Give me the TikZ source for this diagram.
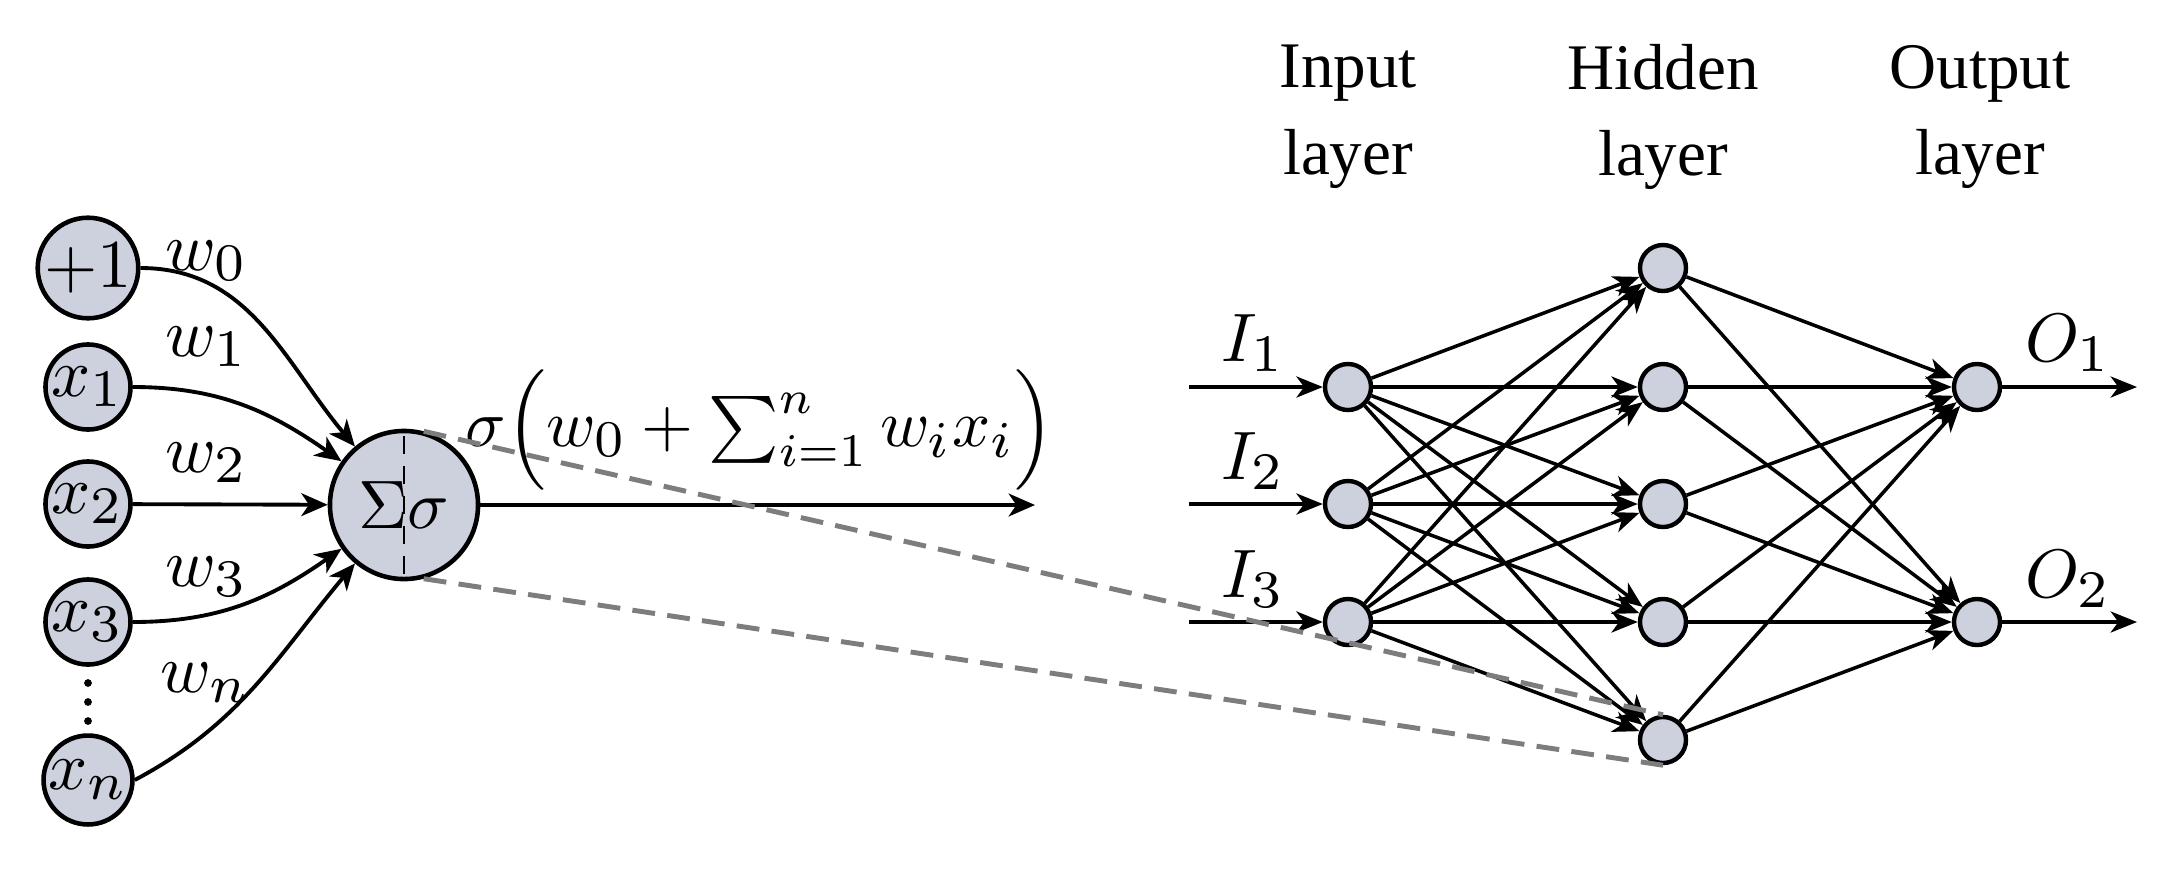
\documentclass[tikz,border=0pt]{standalone}
\usepackage{fontspec}
\newfontfamily\layerfont{Liberation Serif}
\usetikzlibrary{arrows.meta}
\definecolor{nodefill}{RGB}{205,209,222}
\definecolor{dashgray}{RGB}{125,125,125}
\newcommand{\mth}[1]{\scalebox{1.95}{$#1$}}
\newcommand{\sbs}[1]{_{\scalebox{1.1}{$\scriptstyle #1$}}}
\tikzset{
  inunit/.style={circle,draw,fill=nodefill,line width=1.3pt,minimum size=0.85cm,inner sep=0pt},
  sumunit/.style={circle,draw,fill=nodefill,line width=1.3pt,minimum size=1.48cm,inner sep=0pt},
  netunit/.style={circle,draw,fill=nodefill,line width=1.25pt,minimum size=0.46cm,inner sep=0pt},
  arr/.style={-{Stealth[length=7.5pt,width=6.5pt,inset=2.2pt]},line width=1.1pt},
  netarr/.style={-{Stealth[length=7.5pt,width=6pt,inset=2.2pt]},line width=1.0pt},
  vdash/.style={line width=0.75pt,dash pattern=on 5pt off 3.5pt,shorten <=2.2pt,shorten >=2.2pt},
  gdash/.style={dashgray,line width=1.4pt,dash pattern=on 6.5pt off 3.5pt},
  layerlabel/.style={align=center,font=\layerfont\fontsize{18.5}{24.7}\selectfont},
}
\begin{document}
\begin{tikzpicture}[x=0.01cm,y=-0.01cm]
\useasboundingbox (0,0) rectangle (2175,869);

% ---- single neuron ----
\node[inunit] (b)  at (88,268) {\mth{+1}};
\node[inunit] (x1) at (88,387) {\mth{x\sbs{1}}};
\node[inunit] (x2) at (88,504) {\mth{x\sbs{2}}};
\node[inunit] (x3) at (88,622) {\mth{x\sbs{3}}};
\node[inunit] (xn) at (88,780) {\mth{x\sbs{n}}};
\fill (88,683) circle[radius=1.1pt] (88,702) circle[radius=1.1pt] (88,721) circle[radius=1.1pt];

\node[sumunit] (s) at (404,505) {\mth{\Sigma\sigma}};
\draw[vdash] (s.north) -- (s.south);

\node (lw0) at (207,261) {\mth{w\sbs{0}}};
\node (lw1) at (207,347) {\mth{w\sbs{1}}};
\node (lw2) at (207,463) {\mth{w\sbs{2}}};
\node (lw3) at (207,577) {\mth{w\sbs{3}}};
\node (lwn) at (205,683) {\mth{w\sbs{n}}};

\draw[arr] (b.east)  to[out=0,in=130] (s);
\draw[arr] (x1.east) to[out=0,in=145] (s);
\draw[arr] (x2) -- (s);
\draw[arr] (x3.east) to[out=0,in=215] (s);
\draw[arr] (xn.east) to[out=28,in=230] (s);

\coordinate (yend) at (1035,505);
\draw[arr] (s) -- (yend);
\node[scale=0.975] (f) at (760,430) {\mth{\sigma\Big(w\sbs{0}+\sum\nolimits_{i=1}^{n} w\sbs{i} x\sbs{i}\Big)}};

% ---- network ----
\foreach \k/\y in {1/387,2/504,3/622}{
  \node[netunit] (i\k) at (1348,\y) {};
}
\foreach \k/\y in {1/268,2/387,3/504,4/622,5/740}{
  \node[netunit] (h\k) at (1663,\y) {};
}
\foreach \k/\y in {1/387,2/622}{
  \node[netunit] (o\k) at (1977,\y) {};
}
\foreach \a in {1,2,3}{
  \foreach \c in {1,...,5}{
    \draw[netarr] (i\a) -- (h\c);
  }
}
\foreach \c in {1,...,5}{
  \foreach \d in {1,2}{
    \draw[netarr] (h\c) -- (o\d);
  }
}
\foreach \k/\y in {1/387,2/504,3/622}{
  \coordinate (ia\k) at (1189,\y);
  \draw[netarr] (ia\k) -- (i\k);
}
\foreach \k/\y in {1/387,2/622}{
  \coordinate (oa\k) at (2137,\y);
  \draw[netarr] (o\k) -- (oa\k);
}
\node (lI1) at (1253,343) {\mth{I\sbs{1}}};
\node (lI2) at (1253,461) {\mth{I\sbs{2}}};
\node (lI3) at (1253,579) {\mth{I\sbs{3}}};
\node (lO1) at (2068,343) {\mth{O\sbs{1}}};
\node (lO2) at (2068,579) {\mth{O\sbs{2}}};

\node[layerlabel] (lin)  at (1348,117) {Input\\layer};
\node[layerlabel] (lhid) at (1663,117) {Hidden\\layer};
\node[layerlabel] (lout) at (1980,117) {Output\\layer};

% ---- zoom lines ----
\draw[gdash] (s.75) -- (h5.north);
\draw[gdash] (s.-75) -- (h5.south);
\end{tikzpicture}
\end{document}
